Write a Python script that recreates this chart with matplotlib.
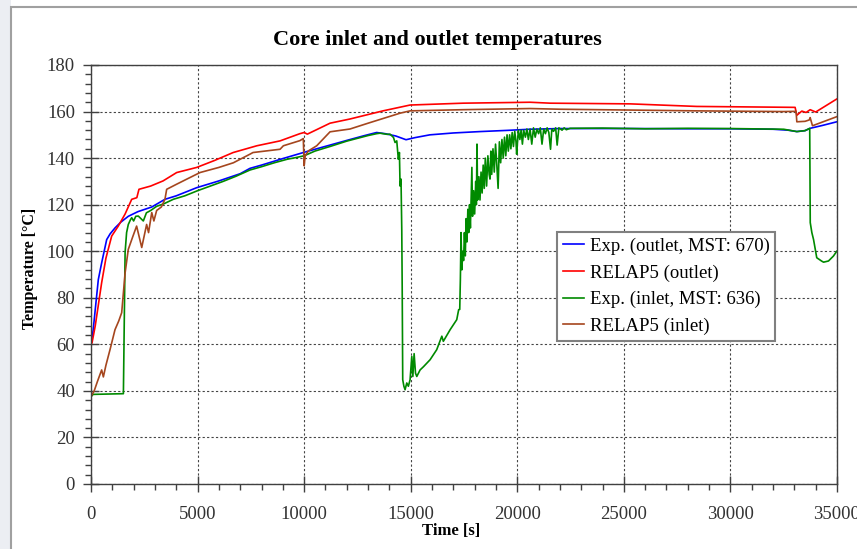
import matplotlib
matplotlib.use('Agg')
import matplotlib.pyplot as plt
from matplotlib.ticker import MultipleLocator
from matplotlib.patches import Rectangle

# values (time in s, temperature in degC)
exp_out_t = [0, 100, 200, 343, 500, 736, 900, 1126, 1400, 1750, 2200, 2850, 3470, 4000,
             4960, 6000, 7000, 7460, 8000, 9000, 10000, 11215, 12000, 12800, 13400, 13800,
             14300, 14780, 15200, 15900, 17000, 18250, 19500, 20600, 22000, 25300, 28000,
             30000, 32000, 32700, 33115, 33500, 33740, 34300, 34990]
exp_out_T = [60.5, 66, 75, 87.8, 95, 105, 107.5, 110, 112.5, 115, 117, 119, 122.3, 123.8,
             127.3, 130.2, 133.3, 135.6, 137, 139.8, 142.5, 145.6, 147.6, 149.6, 151, 150.5,
             149.5, 147.9, 148.8, 150, 150.8, 151.4, 151.9, 152.4, 152.7, 152.7, 152.6,
             152.6, 152.4, 152, 151.4, 151.8, 152.8, 154, 155.6]

relap_out_t = [0, 50, 200, 500, 700, 970, 1280, 1600, 1910, 2150, 2250, 2800, 3380, 4020,
               4960, 5800, 6670, 7780, 8870, 9800, 10000, 10150, 11215, 12150, 13700,
               14970, 17460, 20600, 21540, 25300, 28420, 33035, 33115, 33350, 33550,
               33740, 34000, 34990]
relap_out_T = [60, 60.7, 68, 86.5, 97, 106.5, 110.8, 116, 122.3, 123, 126.6, 128, 130.2,
               133.8, 136, 139, 142.4, 145.3, 147.4, 150.5, 151, 150.3, 155, 156.8, 160.3,
               162.8, 163.6, 164, 163.6, 163.3, 162.2, 161.8, 158.4, 160.2, 159.6, 160.8,
               159.8, 165.4]

exp_in_t = [0, 100, 1520, 1560, 1600, 1670, 1750, 1850, 1910, 2000,
            2100, 2220, 2455, 2600, 2800, 3080, 3400, 3860, 4400, 5000,
            5600, 6200, 6800, 7460, 8000, 8600, 9200, 9600, 10000, 10500,
            11215, 12000, 12500, 13000, 13400, 13560, 13900, 14030, 14190, 14265,
            14345, 14420, 14470, 14500, 14545, 14580, 14600, 14625, 14680, 14735,
            14815, 14890, 14970, 15050, 15100, 15160, 15225, 15285, 15440, 15600,
            15910, 16220, 16460, 16530, 16850, 17160, 17250, 17300, 17330, 17360,
            17400, 17440, 17480, 17520, 17560, 17600, 17640, 17680, 17720, 17760,
            17800, 17840, 17870, 17900, 17950, 18000, 18050, 18080, 18110, 18140,
            18200, 18250, 18300, 18350, 18400, 18450, 18500, 18560, 18620, 18680,
            18720, 18760, 18800, 18860, 18920, 18980, 19040, 19100, 19160, 19220,
            19280, 19340, 19400, 19460, 19520, 19580, 19640, 19700, 19760, 19820,
            19880, 19940, 19970, 20050, 20120, 20180, 20240, 20300, 20380, 20450,
            20520, 20600, 20680, 20760, 20840, 20920, 21000, 21080, 21160, 21240,
            21320, 21400, 21480, 21560, 21620, 21700, 21800, 21870, 21950, 22100,
            22200, 22300, 22480, 24000, 26000, 28000, 30000, 31500, 32500, 33115,
            33500, 33720, 33745, 33820, 33900, 34050, 34290, 34370, 34600, 34830,
            34990]
exp_in_T = [37.5, 38.5, 38.8, 70, 99.5, 108, 111.5, 113.5, 114.4, 113,
            115, 115.1, 113, 116.5, 117.5, 119.3, 120.3, 122.3, 123.8, 126,
            128, 130, 132.2, 134.9, 136.3, 138, 139.5, 140.2, 141, 143,
            145, 147.3, 148.5, 149.7, 150.5, 150.7, 150.2, 150.3, 148.9, 146.7,
            147.4, 139.5, 142.4, 128, 131, 109.4, 85, 44.8, 42, 40.5,
            43.4, 42, 44.8, 54.8, 46.2, 56, 47.6, 46.2, 49, 50.4,
            53.4, 57.7, 63.5, 61.3, 66.3, 70.6, 74.9, 75, 88, 108,
            92, 100, 96, 108, 98, 114, 104, 118, 108, 120,
            110, 124, 136, 115, 126, 116, 130, 120, 146, 122,
            132, 122, 134, 125, 137, 127, 140, 128, 141, 133,
            131, 143, 133, 144, 134, 146, 137, 127, 147, 138,
            148, 140, 149, 141, 150, 143, 150, 144, 151, 145,
            151.5, 147, 141.7, 152, 148, 152, 146, 152, 149, 152.5,
            148, 152.5, 146, 153, 149, 152.5, 150.5, 153, 146, 152.5,
            150.5, 153, 151, 143.8, 152.5, 151.5, 153, 145.6, 153, 152,
            153, 152.2, 152.8, 152.9, 152.6, 152.8, 152.7, 152.5, 152.4, 151.4,
            151.8, 152.8, 112.3, 108, 105, 97.2, 95.7, 95.3, 95.8, 97.9,
            100]

relap_in_t = [0, 150, 300, 500, 580, 700, 900, 1126, 1300, 1440, 1600, 1750, 1950, 2140,
              2380, 2610, 2700, 2850, 2950, 3080, 3300, 3470, 3550, 4020, 4500, 5115, 6000,
              6680, 7460, 7600, 8870, 9025, 9800, 9960, 10000, 10050, 10200, 10590, 11215,
              12150, 13000, 14500, 14970, 17460, 20600, 22000, 28420, 32470, 33080, 33115,
              33500, 33700, 33740, 33850, 34990]
relap_in_T = [37.5, 40, 44, 49, 46, 51, 58, 66.3, 70, 73.6, 90.7, 100.8, 106, 110.8, 101.6,
              111.5, 108, 116.6, 113, 117.5, 119, 122.3, 126.6, 128.8, 131, 133.8, 136, 138,
              141.7, 142.4, 143.8, 145.3, 147.5, 148.4, 136.7, 141, 143.1, 145.3, 151.3,
              152.5, 155, 159.3, 160.3, 160.8, 161.3, 161, 160.3, 160, 160.1, 155.6, 155.8,
              156.4, 157.4, 153.9, 157.8]

labels = ['Exp. (outlet, MST: 670)', 'RELAP5 (outlet)',
          'Exp. (inlet, MST: 636)', 'RELAP5 (inlet)']
colors = ['#0000FF', '#FF0000', '#008A00', '#A5461E']

plt.rcParams['font.family'] = ['Liberation Serif', 'DejaVu Serif']

fig = plt.figure(figsize=(8.57, 5.49), dpi=100)
fig.patch.set_facecolor('white')
# slide background left of the chart frame, and the frame itself
fig.patches.append(Rectangle((0, 0), 11 / 857, 1, transform=fig.transFigure,
                             facecolor='#eceef3', edgecolor='none', zorder=-2))
fig.patches.append(Rectangle((11 / 857, -0.05), 1.0, 1 - 7 / 549 + 0.05,
                             transform=fig.transFigure, facecolor='none',
                             edgecolor='#a0a0a0', lw=1.5, zorder=-1))

ax = fig.add_axes([91 / 857, 65 / 549, 746 / 857, 419 / 549])

series = [(exp_out_t, exp_out_T), (relap_out_t, relap_out_T),
          (exp_in_t, exp_in_T), (relap_in_t, relap_in_T)]
for (t, T), lab, c in zip(series, labels, colors):
    ax.plot(t, T, color=c, lw=1.2, label=lab)

ax.set_xlim(0, 35000)
ax.set_ylim(0, 180)
ax.xaxis.set_major_locator(MultipleLocator(5000))
ax.xaxis.set_minor_locator(MultipleLocator(1000))
ax.yaxis.set_major_locator(MultipleLocator(20))
ax.yaxis.set_minor_locator(MultipleLocator(4))
ax.tick_params(which='major', direction='inout', length=11, width=1,
               color='#404040', labelsize=13.5, labelcolor='#333333')
ax.tick_params(which='minor', direction='out', length=4, width=1, color='#404040')
ax.tick_params(axis='y', which='major', pad=6)
ax.tick_params(axis='x', which='major', pad=10)
ax.grid(which='major', linestyle=(0, (2, 2)), color='#444444', lw=0.8)
for sp in ax.spines.values():
    sp.set_color('#404040')
    sp.set_linewidth(1)

fig.text(437 / 857, 1 - 40 / 549, 'Core inlet and outlet temperatures',
         ha='center', va='center', fontsize=16, fontweight='bold')
fig.text(30 / 857, 1 - 268 / 549, 'Temperature [°C]', rotation=90,
         ha='center', va='center', fontsize=11.5, fontweight='bold')
fig.text(451 / 857, 1 - 531 / 549, 'Time [s]',
         ha='center', va='center', fontsize=12, fontweight='bold')

leg = ax.legend(loc='upper left', bbox_to_anchor=(557 / 857, 1 - 232 / 549),
                bbox_transform=fig.transFigure, borderaxespad=0, fontsize=13.5,
                handlelength=1.15, handletextpad=0.3, borderpad=0.3,
                labelspacing=0.5, fancybox=False, framealpha=1)
leg.get_frame().set_edgecolor('#808080')
leg.get_frame().set_linewidth(1.5)

fig.savefig('out.png', dpi=100)
